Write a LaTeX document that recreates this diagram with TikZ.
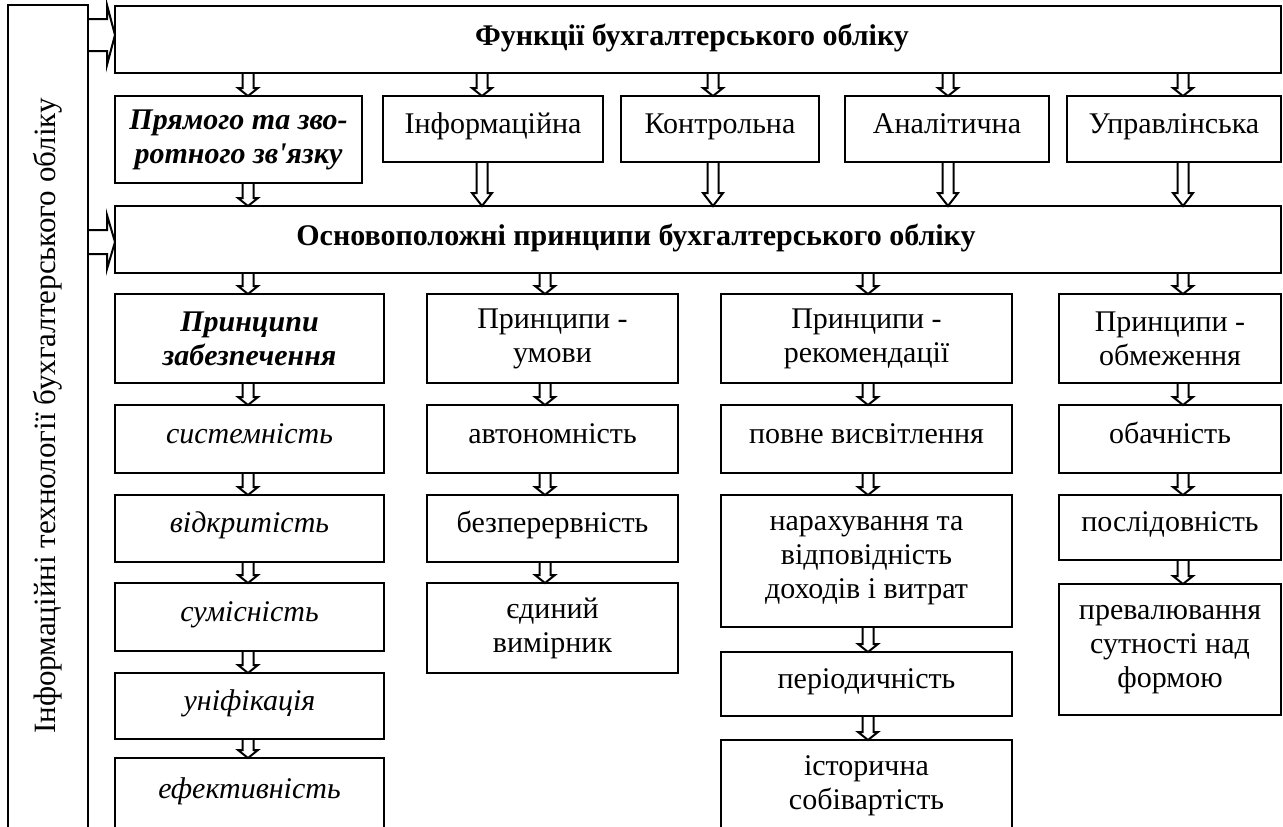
\documentclass[tikz,border=0pt]{standalone}
\usepackage{fontspec}
\setmainfont{Liberation Serif}
\usetikzlibrary{calc}
\newcommand{\myfs}{\fontsize{30}{34}\selectfont}
\tikzset{
  box/.style={draw, line width=2.4pt, inner sep=2pt, outer sep=0pt, align=center, font=\myfs},
  one/.style={box, text height=20pt, text depth=12pt},
  lbl/.style={inner sep=0pt, font=\myfs},
  arr/.style={draw, line width=2pt, line join=miter},
  darr/.style={to path={let \p1=(\tikztostart), \p2=(\tikztotarget) in
     (\x1-5.5pt,\y1) -- (\x1-5.5pt,\y2+#1) -- (\x1-10pt,\y2+#1) -- (\x1,\y2) -- (\x1+10pt,\y2+#1) -- (\x1+5.5pt,\y2+#1) -- (\x1+5.5pt,\y1)}},
  darr/.default=8pt,
  rarr/.style n args={2}{to path={let \p1=(\tikztostart), \p2=(\tikztotarget) in
     (\x1,\y1+#1) -- (\x2-8pt,\y1+#1) -- (\x2-8pt,\y1+#2) -- (\x2,\y1) -- (\x2-8pt,\y1-#2) -- (\x2-8pt,\y1-#1) -- (\x1,\y1-#1)}},
}
\begin{document}
\begin{tikzpicture}[x=1pt,y=-1pt]
\useasboundingbox (0,0) rectangle (1283,827);
\clip (0,0) rectangle (1283,827);
\fill[white] (0,0) rectangle (1283,827);

% arrow x positions
\coordinate (xa) at (248,0);
\coordinate (xb) at (482,0);
\coordinate (xc) at (713,0);
\coordinate (xd) at (948,0);
\coordinate (xe) at (1183,0);
\coordinate (xf) at (545,0);
\coordinate (xg) at (868,0);

% left vertical box
\node[box, minimum width=80pt, minimum height=835pt] (L) at (48,422.5) {};
\node[lbl, rotate=90, font=\fontsize{31}{34}\selectfont] (Lt) at (48,416) {Інформаційні технології бухгалтерського обліку};

% top row
\node[box, minimum width=1166pt, minimum height=67pt] (F) at (698,39.5) {};
\node[lbl, font=\myfs\bfseries] (Ft) at (692,38) {Функції бухгалтерського обліку};

\node[box, minimum width=247pt, minimum height=87pt, font=\myfs\bfseries\itshape] (P) at (238.5,139.5) {Прямого та зво-\\ротного зв\textquotesingle{}язку};
\node[one, minimum width=220pt, minimum height=66pt] (I) at (493,129) {Інформаційна};
\node[one, minimum width=198pt, minimum height=66pt] (K) at (720,129) {Контрольна};
\node[one, minimum width=204pt, minimum height=66pt] (A) at (947,129) {Аналітична};
\node[one, minimum width=214pt, minimum height=66pt] (U) at (1174,129) {Управлінська};

\node[box, minimum width=1166pt, minimum height=67pt] (O) at (698,239.5) {};
\node[lbl, font=\myfs\bfseries] (Ot) at (636,238) {Основоположні принципи бухгалтерського обліку};

% column 1
\node[box, minimum width=269pt, minimum height=89pt, font=\myfs\bfseries\itshape] (Pz) at (249.5,338.5) {Принципи\\забезпечення};
\node[one, minimum width=269pt, minimum height=68pt, font=\myfs\itshape] (s1) at (249.5,439) {системність};
\node[one, minimum width=269pt, minimum height=67pt, font=\myfs\itshape] (s2) at (249.5,528.5) {відкритість};
\node[one, minimum width=269pt, minimum height=68pt, font=\myfs\itshape] (s3) at (249.5,617) {сумісність};
\node[one, minimum width=269pt, minimum height=66pt, font=\myfs\itshape] (s4) at (249.5,706) {уніфікація};
\node[one, minimum width=269pt, minimum height=72pt, font=\myfs\itshape] (s5) at (249.5,794) {ефективність};

% column 2
\node[box, minimum width=251pt, minimum height=89pt] (Pu) at (552.5,338.5) {Принципи -\\умови};
\node[one, minimum width=251pt, minimum height=68pt] (a1) at (552.5,439) {автономність};
\node[one, minimum width=251pt, minimum height=67pt] (a2) at (552.5,528.5) {безперервність};
\node[box, minimum width=251pt, minimum height=90pt] (a3) at (552.5,628) {єдиний\\вимірник};

% column 3
\node[box, minimum width=291pt, minimum height=89pt] (Pr) at (866.5,338.5) {Принципи -\\рекомендації};
\node[one, minimum width=291pt, minimum height=68pt] (b1) at (866.5,439) {повне висвітлення};
\node[box, minimum width=291pt, minimum height=132pt] (b2) at (866.5,561) {нарахування та\\відповідність\\доходів і витрат};
\node[one, minimum width=291pt, minimum height=64pt] (b3) at (866.5,684) {періодичність};
\node[box, minimum width=291pt, minimum height=92pt] (b4) at (866.5,786) {історична\\собівартість};

% column 4
\node[box, minimum width=222pt, minimum height=89pt] (Po) at (1170,338.5) {Принципи -\\обмеження};
\node[one, minimum width=222pt, minimum height=68pt] (c1) at (1170,439) {обачність};
\node[one, minimum width=222pt, minimum height=65pt] (c2) at (1170,527.5) {послідовність};
\node[box, minimum width=222pt, minimum height=131pt] (c3) at (1170,649.5) {превалювання\\сутності над\\формою};

% right block arrows from the left box
\draw[arr, rarr={16pt}{30pt}] ($(L.east |- F.west)+(0,-4.5)$) to ($(F.west)+(0,-4.5)$);
\draw[arr, rarr={12pt}{27pt}] ($(L.east |- O.west)+(0,2.5)$) to ($(O.west)+(0,2.5)$);

% top to row 2
\draw[arr, darr] (F.south -| xa) to (P.north -| xa);
\draw[arr, darr] (F.south -| xb) to (I.north -| xb);
\draw[arr, darr] (F.south -| xc) to (K.north -| xc);
\draw[arr, darr] (F.south -| xd) to (A.north -| xd);
\draw[arr, darr] (F.south -| xe) to (U.north -| xe);

% row 2 to principles
\draw[arr, darr] (P.south -| xa) to (O.north -| xa);
\draw[arr, darr=13pt] (I.south -| xb) to (O.north -| xb);
\draw[arr, darr=13pt] (K.south -| xc) to (O.north -| xc);
\draw[arr, darr=13pt] (A.south -| xd) to (O.north -| xd);
\draw[arr, darr=13pt] (U.south -| xe) to (O.north -| xe);

% principles to groups
\draw[arr, darr] (O.south -| xa) to (Pz.north -| xa);
\draw[arr, darr] (O.south -| xf) to (Pu.north -| xf);
\draw[arr, darr] (O.south -| xg) to (Pr.north -| xg);
\draw[arr, darr] (O.south -| xe) to (Po.north -| xe);

% column 1
\draw[arr, darr] (Pz.south -| xa) to (s1.north -| xa);
\draw[arr, darr] (s1.south -| xa) to (s2.north -| xa);
\draw[arr, darr] (s2.south -| xa) to (s3.north -| xa);
\draw[arr, darr] (s3.south -| xa) to (s4.north -| xa);
\draw[arr, darr] (s4.south -| xa) to (s5.north -| xa);

% column 2
\draw[arr, darr] (Pu.south -| xf) to (a1.north -| xf);
\draw[arr, darr] (a1.south -| xf) to (a2.north -| xf);
\draw[arr, darr] (a2.south -| xf) to (a3.north -| xf);

% column 3
\draw[arr, darr] (Pr.south -| xg) to (b1.north -| xg);
\draw[arr, darr] (b1.south -| xg) to (b2.north -| xg);
\draw[arr, darr] (b2.south -| xg) to (b3.north -| xg);
\draw[arr, darr] (b3.south -| xg) to (b4.north -| xg);

% column 4
\draw[arr, darr] (Po.south -| xe) to (c1.north -| xe);
\draw[arr, darr] (c1.south -| xe) to (c2.north -| xe);
\draw[arr, darr] (c2.south -| xe) to (c3.north -| xe);
\end{tikzpicture}
\end{document}
